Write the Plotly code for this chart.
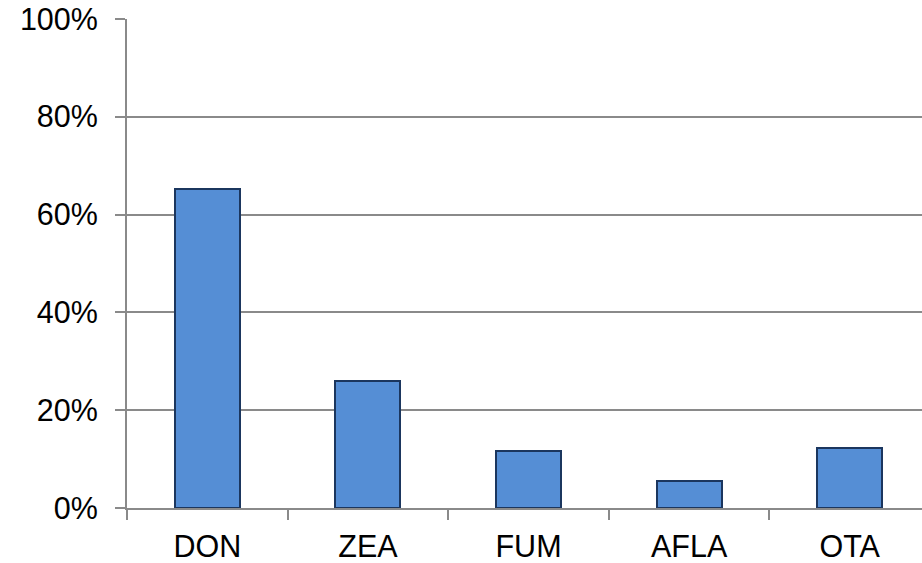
import plotly.graph_objects as go

# Share of samples contaminated, by mycotoxin
toxins = ["DON", "ZEA", "FUM", "AFLA", "OTA"]
share = [0.652, 0.260, 0.117, 0.056, 0.123]
y_ticks = [0, 0.2, 0.4, 0.6, 0.8, 1.0]

GRID = "#8a8a8a"
FONT = dict(family="Arial, Liberation Sans, sans-serif", size=30.5, color="#000000")

fig = go.Figure(
    go.Bar(
        x=toxins,
        y=share,
        width=0.405,
        marker=dict(color="#558ED5", line=dict(color="#1B365E", width=2)),
        hoverinfo="x+y",
    )
)

fig.update_layout(
    width=922,
    height=563,
    margin=dict(l=127, r=0, t=19, b=53),
    paper_bgcolor="white",
    plot_bgcolor="white",
    font=FONT,
    showlegend=False,
    bargap=0,
)

fig.update_xaxes(
    type="category",
    range=[-0.5, 4.45],
    showgrid=False,
    showline=True,
    linecolor=GRID,
    linewidth=2,
    ticks="outside",
    tickson="boundaries",
    ticklen=10,
    tickcolor=GRID,
    tickwidth=2,
    tickfont=FONT,
    ticklabelstandoff=10,
    zeroline=False,
)

fig.update_yaxes(
    range=[0, 1],
    tickvals=y_ticks,
    tickformat=".0%",
    showgrid=True,
    gridcolor=GRID,
    gridwidth=2,
    showline=True,
    linecolor=GRID,
    linewidth=2,
    ticks="outside",
    ticklen=10,
    tickcolor=GRID,
    tickwidth=2,
    tickfont=FONT,
    ticklabelstandoff=11,
    zeroline=False,
)

fig.write_html("out.html")
